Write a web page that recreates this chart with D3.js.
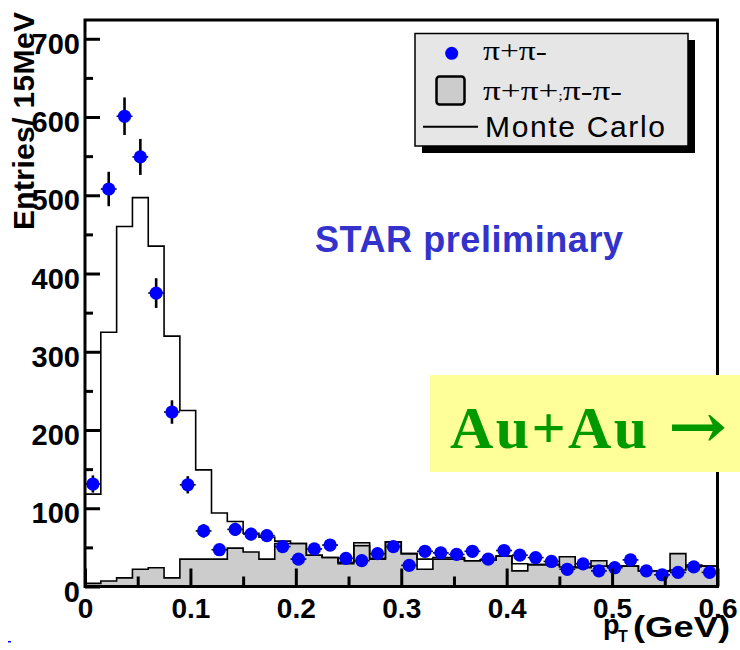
<!DOCTYPE html>
<html>
<head>
<meta charset="utf-8">
<script src="https://cdn.jsdelivr.net/npm/d3@7"></script>
<style>
  html, body { margin: 0; padding: 0; background: #ffffff; }
  svg { display: block; }
</style>
</head>
<body>
<svg id="chart" width="740" height="650"></svg>
<script>
// pT bin centres (GeV), 15 MeV bins
const binCentres = [
  0.0075, 0.0225, 0.0375, 0.0525, 0.0675, 0.0825, 0.0975, 0.1125, 0.1275, 0.1425,
  0.1575, 0.1725, 0.1875, 0.2025, 0.2175, 0.2325, 0.2475, 0.2625, 0.2775, 0.2925,
  0.3075, 0.3225, 0.3375, 0.3525, 0.3675, 0.3825, 0.3975, 0.4125, 0.4275, 0.4425,
  0.4575, 0.4725, 0.4875, 0.5025, 0.5175, 0.5325, 0.5475, 0.5625, 0.5775, 0.5925
];
const binWidth = 0.015;

// unlike-sign pairs (pi+ pi-)
const unlikeSign = [
  131, 508, 601, 549, 375, 223, 130, 71, 47, 73,
  67, 65, 51, 35, 48, 53, 36, 33, 42, 51,
  27, 45, 43, 41, 45, 35, 46, 40, 37, 32,
  22, 29, 20, 24, 34, 20, 15, 18, 25, 18
];
const unlikeSignErr = [
  11, 22, 24, 23, 19, 15, 11, 8.5, 7, 8.5,
  8, 8, 7, 6, 7, 7, 6, 6, 6.5, 7,
  5, 6.5, 6.5, 6.5, 6.5, 6, 7, 6, 6, 5.5,
  4.5, 5.5, 4.5, 5, 6, 4.5, 4, 4, 5, 4
];

// like-sign pairs (pi+ pi+ ; pi- pi-)
const likeSign = [
  4, 7, 11, 22, 24, 11, 35, 35, 35, 49,
  44, 35, 55, 55, 40, 37, 29, 56, 35, 57,
  42, 22, 35, 35, 33, 34, 39, 20, 28, 28,
  38, 24, 33, 26, 26, 20, 20, 42, 27, 26
];

// Monte Carlo expectation
const monteCarlo = [
  118, 325, 460, 497, 435, 320, 225, 149, 94, 83,
  68, 63, 58, 55, 40, 37, 31, 52, 36, 57,
  42, 35, 37, 37, 33, 34, 39, 29, 28, 28,
  25, 25, 26, 26, 26, 20, 20, 21, 27, 26
];

const xTicks = [0, 0.1, 0.2, 0.3, 0.4, 0.5, 0.6];
const xTickLabels = ["0", "0.1", "0.2", "0.3", "0.4", "0.5", "0.6"];
const xMinorTicks = [0.05, 0.15, 0.25, 0.35, 0.45, 0.55];
const yTicks = [0, 100, 200, 300, 400, 500, 600, 700];
const yMinorTicks = [50, 150, 250, 350, 450, 550, 650];

const svg = d3.select("#chart");
const sans = "'Liberation Sans', Arial, Helvetica, sans-serif";
const serif = "'Liberation Serif', 'Times New Roman', serif";

const x = d3.scaleLinear().domain([0, 0.6]).range([85, 717.5]);
const y = d3.scaleLinear().domain([0, 724]).range([586.5, 20]);

svg.append("rect").attr("width", 740).attr("height", 650).attr("fill", "#ffffff");

// step outline: each bin contributes its low and high edge at the bin height
function stepPoints(vals) {
  const pts = [[binCentres[0] - binWidth / 2, 0]];
  vals.forEach((v, i) => {
    pts.push([binCentres[i] - binWidth / 2, v], [binCentres[i] + binWidth / 2, v]);
  });
  pts.push([binCentres[vals.length - 1] + binWidth / 2, 0]);
  return pts;
}

const plot = svg.append("g");

// like-sign histogram (filled)
plot.append("path")
  .datum(stepPoints(likeSign))
  .attr("d", d3.area().x(d => x(d[0])).y0(y(0)).y1(d => y(d[1])))
  .attr("fill", "#cccccc");
plot.append("path")
  .datum(stepPoints(likeSign))
  .attr("d", d3.line().x(d => x(d[0])).y(d => y(d[1])))
  .attr("fill", "none").attr("stroke", "#000").attr("stroke-width", 1.6);

// Monte Carlo histogram (line)
plot.append("path")
  .datum(stepPoints(monteCarlo))
  .attr("d", d3.line().x(d => x(d[0])).y(d => y(d[1])))
  .attr("fill", "none").attr("stroke", "#000").attr("stroke-width", 1.6);

// unlike-sign data points with error bars
const pts = plot.append("g");
binCentres.forEach((c, i) => {
  const v = unlikeSign[i], e = unlikeSignErr[i];
  pts.append("line")
    .attr("x1", x(c)).attr("x2", x(c))
    .attr("y1", y(v - e)).attr("y2", y(v + e))
    .attr("stroke", "#000").attr("stroke-width", 2.6);
  pts.append("line")
    .attr("x1", x(c - binWidth / 2)).attr("x2", x(c + binWidth / 2))
    .attr("y1", y(v)).attr("y2", y(v))
    .attr("stroke", "#000").attr("stroke-width", 1.6);
});
pts.selectAll("circle")
  .data(binCentres)
  .join("circle")
  .attr("cx", d => x(d))
  .attr("cy", (d, i) => y(unlikeSign[i]))
  .attr("r", 6.6)
  .attr("fill", "#0000ff");

// axes
const yAxis = svg.append("g").attr("transform", `translate(${x(0)},0)`)
  .call(d3.axisLeft(y).tickValues(yTicks).tickSize(-15).tickSizeOuter(0).tickPadding(5)
    .tickFormat(d3.format("d")));
const yMinor = svg.append("g").attr("transform", `translate(${x(0)},0)`)
  .call(d3.axisLeft(y).tickValues(yMinorTicks).tickSize(-8).tickSizeOuter(0).tickFormat(""));
const xAxis = svg.append("g").attr("transform", `translate(0,${y(0)})`)
  .call(d3.axisBottom(x).tickValues(xTicks).tickSize(-18).tickSizeOuter(0).tickPadding(12)
    .tickFormat((d, i) => xTickLabels[i]));
const xMinor = svg.append("g").attr("transform", `translate(0,${y(0)})`)
  .call(d3.axisBottom(x).tickValues(xMinorTicks).tickSize(-10).tickSizeOuter(0).tickFormat(""));

[yAxis, yMinor, xAxis, xMinor].forEach(g => {
  g.select(".domain").remove();
  g.selectAll(".tick line").attr("stroke", "#000").attr("stroke-width", 3);
  g.selectAll(".tick text")
    .attr("fill", "#000").attr("font-family", sans).attr("font-weight", "bold");
});
yAxis.selectAll(".tick text").attr("font-size", 29).attr("dy", "0.5em");
xAxis.selectAll(".tick text").attr("font-size", 28);

// frame
svg.append("rect")
  .attr("x", x(0)).attr("y", y(724))
  .attr("width", x(0.6) - x(0)).attr("height", y(0) - y(724))
  .attr("fill", "none").attr("stroke", "#000").attr("stroke-width", 3);

// axis titles
svg.append("text")
  .attr("transform", "translate(33.5,230) rotate(-90)")
  .attr("font-family", sans).attr("font-weight", "bold").attr("font-size", 30)
  .attr("textLength", 218).attr("lengthAdjust", "spacing")
  .text("Entries/ 15MeV");

const xt = svg.append("g").attr("font-family", sans).attr("font-weight", "bold").attr("fill", "#000");
xt.append("text").attr("x", 603).attr("y", 634).attr("font-size", 27).text("p");
xt.append("text").attr("x", 618).attr("y", 642).attr("font-size", 16).text("T");
xt.append("text").attr("x", 633).attr("y", 637).attr("font-size", 30)
  .attr("textLength", 97).attr("lengthAdjust", "spacingAndGlyphs").text("(GeV)");

// legend
const leg = svg.append("g");
leg.append("rect").attr("x", 422).attr("y", 40).attr("width", 273).attr("height", 113).attr("fill", "#000");
leg.append("rect").attr("x", 415).attr("y", 33.5).attr("width", 273).attr("height", 112.5)
  .attr("fill", "#e6e6e6").attr("stroke", "#000").attr("stroke-width", 1.5);
leg.append("circle").attr("cx", 451.7).attr("cy", 53.3).attr("r", 6.5).attr("fill", "#0000ff");
leg.append("text").attr("x", 483).attr("y", 60).attr("font-family", serif).attr("font-size", 28)
  .attr("textLength", 64).attr("lengthAdjust", "spacingAndGlyphs").text("π+π-");
leg.append("rect").attr("x", 436.5).attr("y", 76.5).attr("width", 28).attr("height", 28).attr("rx", 3)
  .attr("fill", "#cccccc").attr("stroke", "#000").attr("stroke-width", 2.5);
const ls = leg.append("text").attr("x", 483).attr("y", 100).attr("font-family", serif).attr("font-size", 28)
  .attr("textLength", 139).attr("lengthAdjust", "spacingAndGlyphs");
ls.append("tspan").text("π+π+");
ls.append("tspan").attr("font-size", 13).text(";");
ls.append("tspan").text("π-π-");
leg.append("line").attr("x1", 423).attr("x2", 478).attr("y1", 126.7).attr("y2", 126.7)
  .attr("stroke", "#000").attr("stroke-width", 2);
leg.append("text").attr("x", 485).attr("y", 137).attr("font-family", sans).attr("font-size", 30)
  .attr("textLength", 180).attr("lengthAdjust", "spacing").text("Monte Carlo");

// annotations
svg.append("text").attr("x", 315).attr("y", 251.5)
  .attr("font-family", sans).attr("font-weight", "bold").attr("font-size", 36)
  .attr("fill", "#3333cc").attr("textLength", 308).attr("lengthAdjust", "spacing")
  .text("STAR preliminary");

svg.append("rect").attr("x", 430).attr("y", 375).attr("width", 310).attr("height", 97).attr("fill", "#ffff99");
svg.append("text").attr("x", 450).attr("y", 448)
  .attr("font-family", serif).attr("font-weight", "bold").attr("font-size", 60)
  .attr("fill", "#009900").attr("textLength", 197).attr("lengthAdjust", "spacing")
  .text("Au+Au");
svg.append("text").attr("x", 668).attr("y", 448)
  .attr("font-family", "'DejaVu Serif', serif").attr("font-weight", "bold").attr("font-size", 62)
  .attr("fill", "#009900").attr("textLength", 59).attr("lengthAdjust", "spacingAndGlyphs")
  .text("→");

svg.append("rect").attr("x", 8).attr("y", 641).attr("width", 3).attr("height", 1.5).attr("fill", "#0000ff");
</script>
</body>
</html>
